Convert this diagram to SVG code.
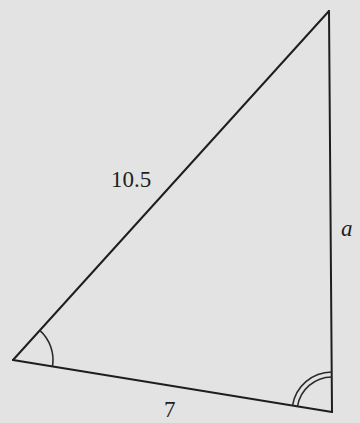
<svg xmlns="http://www.w3.org/2000/svg" width="360" height="423" viewBox="0 0 360 423">
<style>
.ln{stroke:#1e1e1e;stroke-width:2;fill:none;stroke-linecap:round;stroke-linejoin:round}
.arc{stroke:#2a2a2a;stroke-width:1.6;fill:none}
.lbl{font-family:"Liberation Serif","Times New Roman",serif;font-size:23px;fill:#1e1e1e}
</style>
<rect width="360" height="423" fill="#e3e3e3"/>
<g id="connectors">
<line class="ln" x1="13" y1="360" x2="329" y2="11"/>
<line class="ln" x1="329" y1="11" x2="332" y2="412"/>
<line class="ln" x1="13" y1="360" x2="332" y2="412"/>
</g>
<g id="angle-left">
<path class="arc" d="M39.8,330.3 A40,40 0 0 1 52.5,366.4"/>
</g>
<g id="angle-right">
<path class="arc" d="M292.5,405.6 A40,40 0 0 1 331.7,372"/>
<path class="arc" d="M297.5,406.4 A35,35 0 0 1 331.7,377"/>
</g>
<g id="label-hyp"><text class="lbl" x="111" y="187">10.5</text></g>
<g id="label-a"><text class="lbl" x="341" y="236" font-style="italic">a</text></g>
<g id="label-7"><text class="lbl" x="164" y="417">7</text></g>
</svg>
